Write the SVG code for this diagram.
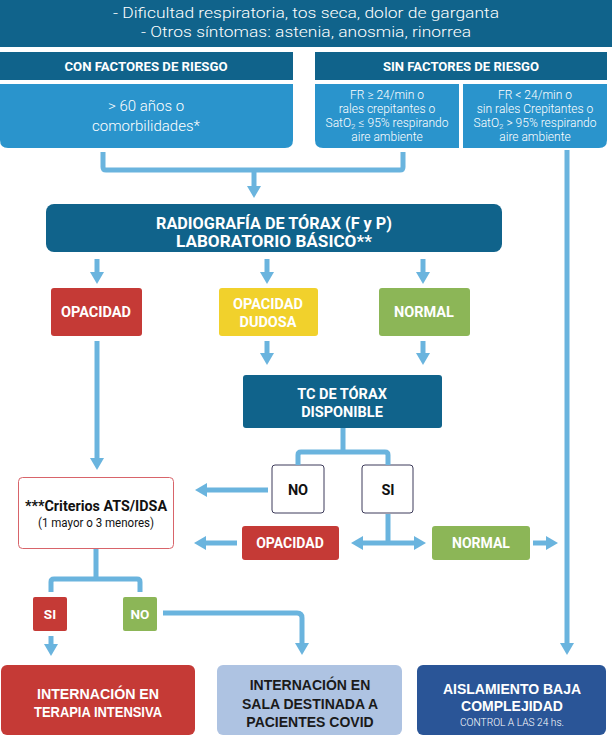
<svg xmlns="http://www.w3.org/2000/svg" width="612" height="743" viewBox="0 0 612 743">
  <style>
    .dark { fill: #10638b; }
    .mid { fill: #2a94cc; }
    .red { fill: #c53a36; }
    .yellow { fill: #f1d12c; }
    .green { fill: #8cb657; }
    .choice { fill: #ffffff; stroke: #3d3b5a; stroke-width: 1; }
    .flow { fill: none; stroke: #6ab4de; stroke-width: 5; stroke-linejoin: round; }
    .arrow { fill: none; stroke: #6ab4de; stroke-width: 5; marker-end: url(#head); }
    .t { font-family: Roboto, "Liberation Sans", sans-serif; text-anchor: middle; fill: #ffffff; }
    .b { font-weight: 700; }
    .k { fill: #111111; }
    .a { font-family: "Liberation Sans", Arial, sans-serif; font-weight: 700; text-anchor: middle; font-size: 14px; }
  </style>
  <defs>
    <marker id="head" viewBox="0 0 12 14" refX="2" refY="7" markerWidth="12" markerHeight="14" markerUnits="userSpaceOnUse" orient="auto-start-reverse">
      <path d="M0,0 L12,7 L0,14 z" fill="#6ab4de"/>
    </marker>
  </defs>

  <!-- symptoms banner -->
  <g id="sintomas">
    <rect x="0" y="0" width="612" height="47" class="dark"/>
    <text class="t" x="306" y="18" font-size="15.5" font-weight="300" textLength="386" lengthAdjust="spacingAndGlyphs">- Dificultad respiratoria, tos seca, dolor de garganta</text>
    <text class="t" x="306" y="37" font-size="15.5" font-weight="300" textLength="330" lengthAdjust="spacingAndGlyphs">- Otros síntomas: astenia, anosmia, rinorrea</text>
  </g>

  <!-- risk factor headers -->
  <g id="con-factores">
    <rect x="0" y="52" width="293" height="28" class="dark"/>
    <text class="t b" x="146" y="71" font-size="13" textLength="163" lengthAdjust="spacingAndGlyphs">CON FACTORES DE RIESGO</text>
  </g>
  <g id="sin-factores">
    <rect x="315" y="52" width="292" height="28" class="dark"/>
    <text class="t b" x="461" y="71" font-size="13" textLength="156" lengthAdjust="spacingAndGlyphs">SIN FACTORES DE RIESGO</text>
  </g>

  <g id="mayores-60">
    <path d="M0,84 H293 V140 Q293,148 285,148 H8 Q0,148 0,140 Z" class="mid"/>
    <text class="t" x="146" y="111" font-size="15" font-weight="300">&gt; 60 años o</text>
    <text class="t" x="146" y="131" font-size="15" font-weight="300" textLength="108" lengthAdjust="spacingAndGlyphs">comorbilidades*</text>
  </g>
  <g id="sin-riesgo-grave">
    <path d="M315,84 H459 V148 H323 Q315,148 315,140 Z" class="mid"/>
    <g class="t" font-size="12" font-weight="300">
      <text x="387" y="99">FR ≥ 24/min o</text>
      <text x="387" y="113">rales crepitantes o</text>
      <text x="387" y="127">SatO<tspan font-size="8" dy="2">2</tspan><tspan dy="-2"> ≤ 95%  respirando</tspan></text>
      <text x="387" y="141">aire ambiente</text>
    </g>
  </g>
  <g id="sin-riesgo-leve">
    <path d="M463,84 H607 V140 Q607,148 599,148 H463 Z" class="mid"/>
    <g class="t" font-size="12" font-weight="300">
      <text x="535" y="99">FR &lt; 24/min o</text>
      <text x="535" y="113">sin rales Crepitantes o</text>
      <text x="535" y="127">SatO<tspan font-size="8" dy="2">2</tspan><tspan dy="-2"> &gt; 95% respirando</tspan></text>
      <text x="535" y="141">aire ambiente</text>
    </g>
  </g>

  <!-- chest X-ray -->
  <g id="radiografia">
    <rect x="46" y="204" width="456" height="48" rx="8" class="dark"/>
    <text class="t b" x="274" y="229" font-size="16.5" textLength="236" lengthAdjust="spacingAndGlyphs">RADIOGRAFÍA DE TÓRAX (F y P)</text>
    <text class="t b" x="274" y="247" font-size="16.5" textLength="196" lengthAdjust="spacingAndGlyphs">LABORATORIO BÁSICO**</text>
  </g>

  <g id="rx-opacidad">
    <rect x="51" y="288" width="91" height="48" rx="3" class="red"/>
    <text class="t b" x="96" y="317" font-size="14.5">OPACIDAD</text>
  </g>
  <g id="rx-dudosa">
    <rect x="219" y="288" width="99" height="48" rx="3" class="yellow"/>
    <text class="t b" x="268" y="309" font-size="14.5">OPACIDAD</text>
    <text class="t b" x="268" y="327" font-size="14.5">DUDOSA</text>
  </g>
  <g id="rx-normal">
    <rect x="379" y="288" width="91" height="48" rx="3" class="green"/>
    <text class="t b" x="424" y="317" font-size="14.5">NORMAL</text>
  </g>

  <!-- CT availability -->
  <g id="tc-torax">
    <rect x="243" y="375" width="199" height="53" rx="3" class="dark"/>
    <text class="t b" x="342" y="399" font-size="14.5">TC DE TÓRAX</text>
    <text class="t b" x="342" y="417" font-size="14.5">DISPONIBLE</text>
  </g>
  <g id="tc-no">
    <rect x="272" y="465" width="52" height="48" rx="3" class="choice"/>
    <text class="t b k" x="298" y="495" font-size="14.5">NO</text>
  </g>
  <g id="tc-si">
    <rect x="362" y="465" width="51" height="48" rx="3" class="choice"/>
    <text class="t b k" x="388" y="495" font-size="14.5">SI</text>
  </g>
  <g id="tc-opacidad">
    <rect x="242" y="526" width="97" height="34" rx="3" class="red"/>
    <text class="t b" x="290" y="548" font-size="14">OPACIDAD</text>
  </g>
  <g id="tc-normal">
    <rect x="432" y="526" width="98" height="34" rx="3" class="green"/>
    <text class="t b" x="481" y="548" font-size="14">NORMAL</text>
  </g>

  <!-- severity criteria -->
  <g id="criterios">
    <rect x="18.5" y="477.5" width="155" height="71" rx="4" fill="#ffffff" stroke="#d8646a" stroke-width="1"/>
    <text class="t b k" x="96" y="511" font-size="14" textLength="142" lengthAdjust="spacingAndGlyphs">***Criterios ATS/IDSA</text>
    <text class="t k" x="96" y="527" font-size="12" textLength="116" lengthAdjust="spacingAndGlyphs">(1 mayor o 3 menores)</text>
  </g>
  <g id="criterios-si">
    <rect x="33" y="597" width="34" height="34" rx="2" class="red"/>
    <text class="t b" x="50" y="619" font-size="13.5">SI</text>
  </g>
  <g id="criterios-no">
    <rect x="123" y="597" width="34" height="34" rx="2" class="green"/>
    <text class="t b" x="140" y="619" font-size="13.5">NO</text>
  </g>

  <!-- outcomes -->
  <g id="terapia-intensiva">
    <rect x="1" y="665" width="194" height="70" rx="6" class="red"/>
    <text class="a" x="98" y="699" fill="#ffffff" textLength="122" lengthAdjust="spacingAndGlyphs">INTERNACIÓN EN</text>
    <text class="a" x="98" y="717" fill="#ffffff" textLength="128" lengthAdjust="spacingAndGlyphs">TERAPIA INTENSIVA</text>
  </g>
  <g id="sala-covid">
    <rect x="217" y="665" width="185" height="70" rx="6" fill="#aec3e2"/>
    <text class="a" x="310" y="690" fill="#1a1a1a">INTERNACIÓN EN</text>
    <text class="a" x="310" y="709" fill="#1a1a1a">SALA DESTINADA A</text>
    <text class="a" x="310" y="727" fill="#1a1a1a">PACIENTES COVID</text>
  </g>
  <g id="aislamiento">
    <rect x="417" y="665" width="189" height="70" rx="6" fill="#2a5597"/>
    <text class="a" x="512" y="694" fill="#ffffff">AISLAMIENTO BAJA</text>
    <text class="a" x="512" y="711" fill="#ffffff">COMPLEJIDAD</text>
    <text class="t" x="512" y="726" font-size="10.5" font-weight="300" textLength="104" lengthAdjust="spacingAndGlyphs">CONTROL  A LAS 24 hs.</text>
  </g>

  <!-- connectors -->
  <g id="connectors">
    <path class="flow" d="M103,152 V167 Q103,170 106,170 H400 Q403,170 403,167 V152"/>
    <path class="arrow" d="M254,170 V188"/>
    <path class="arrow" d="M567,150 V645"/>

    <path class="arrow" d="M97,259 V274"/>
    <path class="arrow" d="M267,259 V274"/>
    <path class="arrow" d="M423,259 V274"/>

    <path class="arrow" d="M267,341 V355"/>
    <path class="arrow" d="M423,341 V355"/>

    <path class="arrow" d="M97,341 V460"/>

    <path class="flow" d="M343,428 V452 M298,465 V455 Q298,452 301,452 H385 Q388,452 388,455 V465"/>
    <path class="arrow" d="M268,490 H205"/>

    <path class="flow" d="M388,514 V543"/>
    <path class="arrow" d="M388,543 H361" />
    <path class="arrow" d="M388,543 H416" />
    <path class="arrow" d="M237,543 H204"/>
    <path class="arrow" d="M533,543 H548"/>

    <path class="flow" d="M96,549 V579 M51,592 V582 Q51,579 54,579 H137 Q140,579 140,582 V592"/>
    <path class="arrow" d="M51,636 V646"/>
    <path class="arrow" d="M163,613 H297 Q302,613 302,618 V645"/>
  </g>
</svg>
